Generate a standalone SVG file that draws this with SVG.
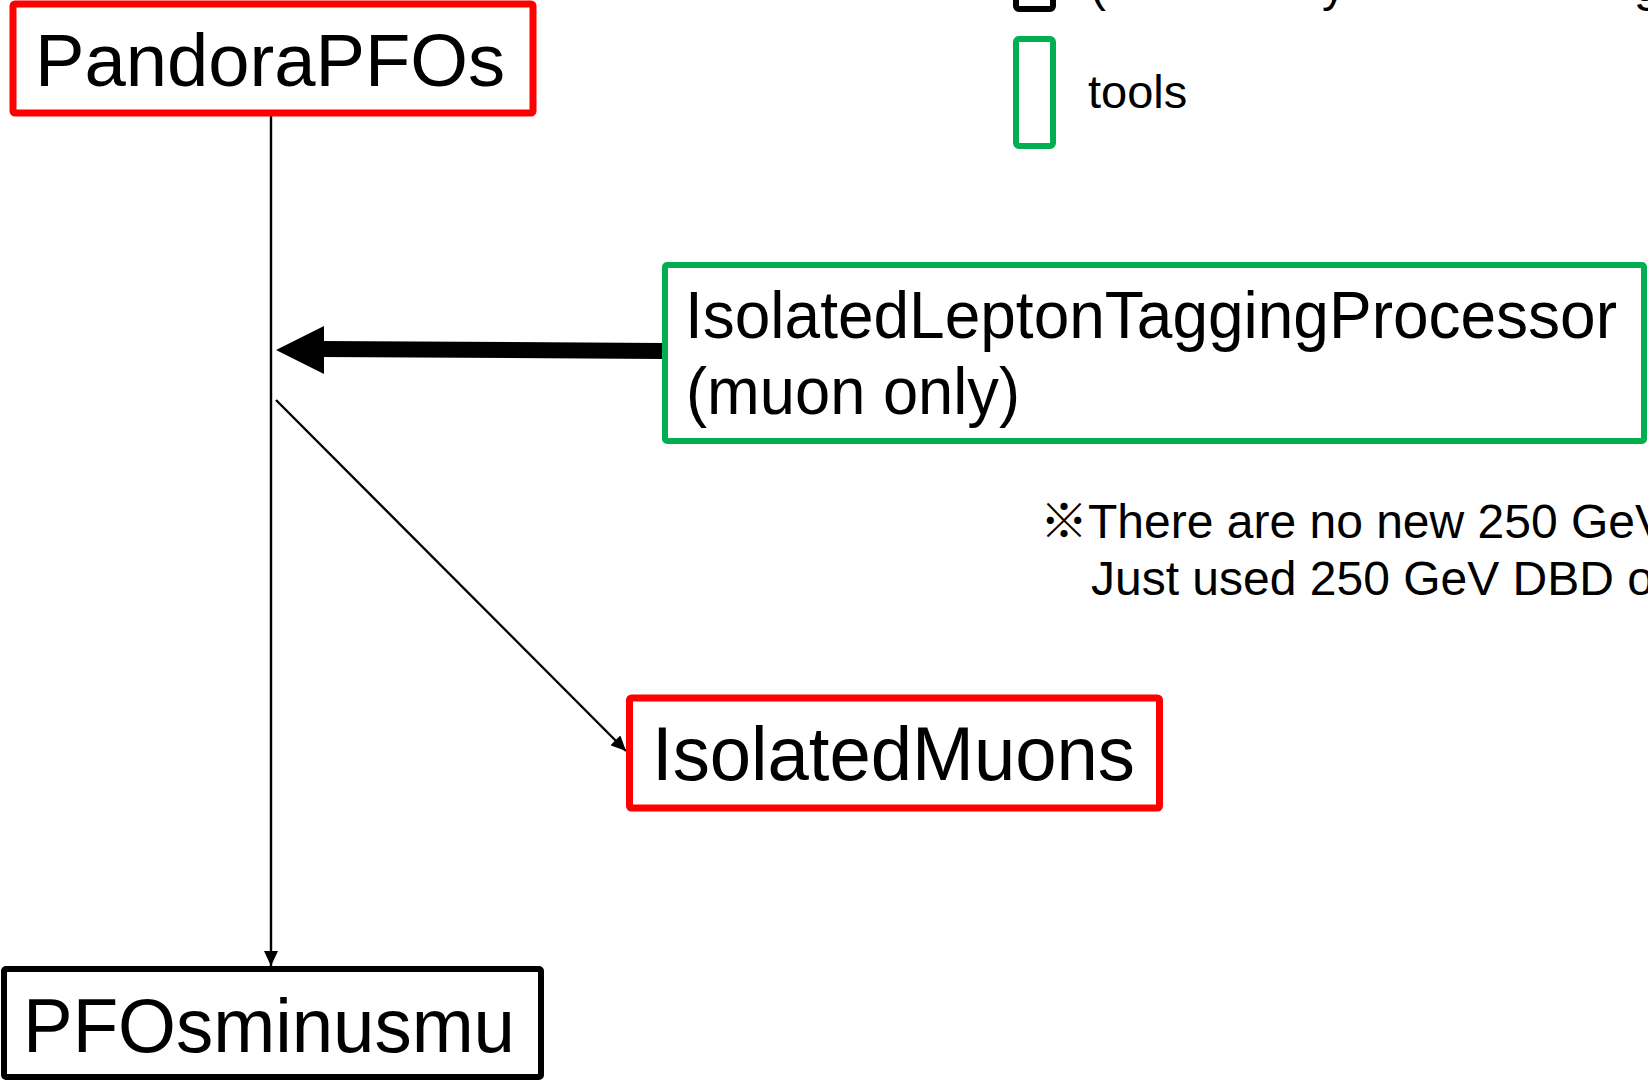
<svg xmlns="http://www.w3.org/2000/svg" width="1648" height="1081" viewBox="0 0 1648 1081">
<defs>
<style>
.t{font-family:"Liberation Sans",Arial,"Noto Sans CJK JP",sans-serif;fill:#000}
.red{fill:#fff;stroke:#FF0000;stroke-width:7}
.grn{fill:#fff;stroke:#00B050;stroke-width:6}
.blk{fill:#fff;stroke:#000;stroke-width:6}
.thin{stroke:#000;stroke-width:2.4;fill:none}
</style>
<marker id="ah" markerUnits="userSpaceOnUse" markerWidth="16" markerHeight="14" refX="15" refY="7" orient="auto">
<path d="M0,0 L15,7 L0,14 Z" fill="#000"/>
</marker>
</defs>
<rect width="1648" height="1081" fill="#fff"/>

<g id="legend">
<rect x="1016" y="-100" width="37" height="109" rx="3" class="blk"/>
<text class="t" x="1090" y="1" font-size="48">(</text>
<text class="t" x="1322" y="1" font-size="48">y</text>
<text class="t" x="1634" y="1" font-size="48">g</text>
<rect x="1016" y="39" width="37" height="107" rx="3" class="grn"/>
<text class="t" x="1088" y="108" font-size="47">tools</text>
</g>

<g id="note">
<text class="t" x="1040" y="538" font-size="48">※There are no new 250 GeV</text>
<text class="t" x="1091" y="595" font-size="48">Just used 250 GeV DBD o</text>
</g>

<g id="connectors">
<line x1="271" y1="114" x2="271" y2="966" class="thin" marker-end="url(#ah)"/>
<line x1="276" y1="400" x2="626" y2="751" class="thin" marker-end="url(#ah)"/>
<line x1="664" y1="351" x2="320" y2="349" stroke="#000" stroke-width="16"/>
<polygon points="276,350 324,326 324,374" fill="#000"/>
</g>

<g id="PandoraPFOs">
<rect x="13" y="4" width="520" height="109" rx="2" class="red"/>
<text class="t" x="35" y="86" font-size="75" textLength="470" lengthAdjust="spacingAndGlyphs">PandoraPFOs</text>
</g>

<g id="PFOsminusmu">
<rect x="4" y="969" width="537" height="108" rx="2" class="blk"/>
<text class="t" x="23" y="1052" font-size="76" textLength="492" lengthAdjust="spacingAndGlyphs">PFOsminusmu</text>
</g>

<g id="IsolatedLeptonTaggingProcessor">
<rect x="665" y="265" width="979" height="176" rx="2" class="grn"/>
<text class="t" x="685" y="338" font-size="66" textLength="932" lengthAdjust="spacingAndGlyphs">IsolatedLeptonTaggingProcessor</text>
<text class="t" x="686" y="414" font-size="66" textLength="334" lengthAdjust="spacingAndGlyphs">(muon only)</text>
</g>

<g id="IsolatedMuons">
<rect x="629.5" y="698" width="530" height="110" rx="2" class="red"/>
<text class="t" x="652" y="780" font-size="76" textLength="483" lengthAdjust="spacingAndGlyphs">IsolatedMuons</text>
</g>
</svg>
